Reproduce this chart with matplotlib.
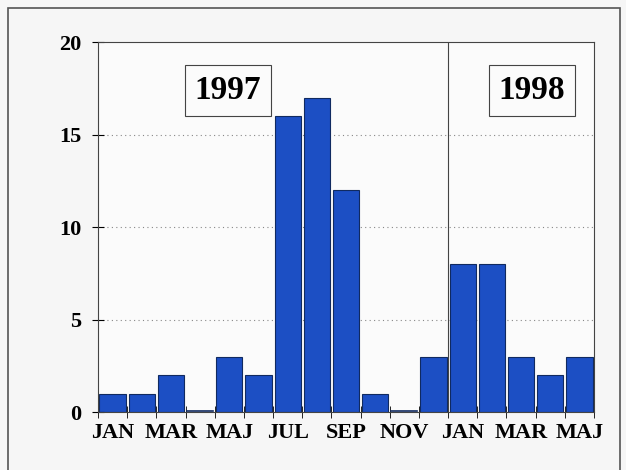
import matplotlib

matplotlib.use("Agg")

import matplotlib.pyplot as plt
from matplotlib.patches import Rectangle

months = ["JAN", "FEB", "MAR", "APR", "MAJ", "JUN", "JUL", "AUG", "SEP",
          "OKT", "NOV", "DEC", "JAN", "FEB", "MAR", "APR", "MAJ"]
counts = [1, 1, 2, 0, 3, 2, 16, 17, 12, 1, 0, 3, 8, 8, 3, 2, 3]
year_labels = ["1997", "1998"]

plt.rcParams["font.family"] = ["Liberation Serif", "DejaVu Serif"]
plt.rcParams["font.weight"] = "bold"

fig = plt.figure(figsize=(6.26, 4.70), dpi=100, facecolor="#f6f6f6")
fig.patches.append(Rectangle((8 / 626, -0.05), 612 / 626, 1 - 8 / 470 + 0.05,
                             transform=fig.transFigure, fill=False,
                             edgecolor="#555555", linewidth=1.2))

ax = fig.add_axes([98 / 626, 1 - 412 / 470, 496 / 626, 370 / 470])
ax.set_facecolor("#fbfbfb")

x = range(len(counts))
bars = ax.bar(x, counts, width=0.9, color="#1c4fc4", edgecolor="#102a60", linewidth=0.8)

# empty months still show a thin dark line just above the axis
for i, c in enumerate(counts):
    if c == 0:
        ax.plot([i - 0.45, i + 0.45], [0.08, 0.08], color="#102a60", linewidth=1.2)

ax.set_xlim(-0.5, len(counts) - 0.5)
ax.set_ylim(0, 20)
ax.set_yticks([0, 5, 10, 15, 20])
ax.tick_params(axis="y", direction="inout", length=8, labelsize=16, pad=8)
for y in [5, 10, 15]:
    ax.axhline(y, color="#888888", linestyle=(0, (1, 3)), linewidth=0.8, zorder=0)

ax.set_xticks(list(x)[::2])
ax.set_xticklabels(months[::2])
ax.set_xticks([i + 0.5 for i in range(-1, len(counts))], minor=True)
ax.tick_params(axis="x", which="major", length=0, labelsize=16, pad=8)
ax.tick_params(axis="x", which="minor", direction="inout", length=8)

for spine in ax.spines.values():
    spine.set_color("#444444")
    spine.set_linewidth(0.8)

# split between the years
ax.axvline(11.5, color="#444444", linewidth=0.8)

box = dict(boxstyle="square,pad=0.3", facecolor="#fbfbfb", edgecolor="#444444", linewidth=0.8)
ax.text(3.95, 17.4, year_labels[0], fontsize=24, ha="center", va="center", bbox=box)
ax.text(14.37, 17.4, year_labels[1], fontsize=24, ha="center", va="center", bbox=box)

plt.savefig("out.png", dpi=100, facecolor=fig.get_facecolor())
plt.close()
